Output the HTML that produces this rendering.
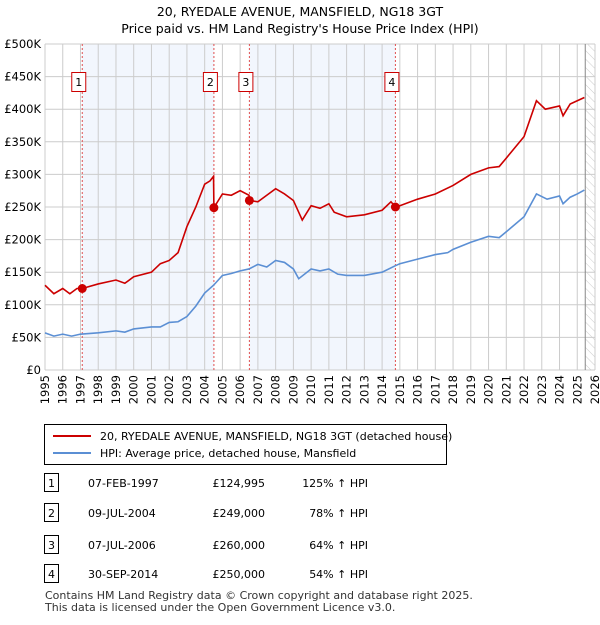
<!DOCTYPE html>
<html><head><meta charset="utf-8"><style>
body{margin:0;background:#fff;font-family:"Liberation Sans","DejaVu Sans",sans-serif;}
svg text{font-family:"DejaVu Sans","Liberation Sans",sans-serif;}
</style></head><body>
<svg width="600" height="620" xmlns="http://www.w3.org/2000/svg">
<defs><pattern id="hatch" width="6" height="6" patternUnits="userSpaceOnUse" patternTransform="rotate(-45)"><line x1="0" y1="0" x2="0" y2="6" stroke="#ccc" stroke-width="1"/></pattern></defs>
<text x="300" y="16" text-anchor="middle" font-size="12.5">20, RYEDALE AVENUE, MANSFIELD, NG18 3GT</text>
<text x="300" y="33" text-anchor="middle" font-size="12.5">Price paid vs. HM Land Registry's House Price Index (HPI)</text>
<g id="plot"></g>
<g>
<rect x="44.5" y="424.5" width="402" height="40" fill="#fff" stroke="#000"/>
<line x1="53" y1="436" x2="91" y2="436" stroke="#cc0000" stroke-width="2"/>
<text x="100" y="440" font-size="11">20, RYEDALE AVENUE, MANSFIELD, NG18 3GT (detached house)</text>
<line x1="53" y1="453" x2="91" y2="453" stroke="#5b8fd4" stroke-width="2"/>
<text x="100" y="457" font-size="11">HPI: Average price, detached house, Mansfield</text>
</g>
<g id="table" font-size="11"></g>
<text x="45" y="599" font-size="11" fill="#333">Contains HM Land Registry data © Crown copyright and database right 2025.</text>
<text x="45" y="611" font-size="11" fill="#333">This data is licensed under the Open Government Licence v3.0.</text>
</svg>
<script>
const yTicks=[0,50000,100000,150000,200000,250000,300000,350000,400000,450000,500000];
const yTickLabels=["£0","£50K","£100K","£150K","£200K","£250K","£300K","£350K","£400K","£450K","£500K"];
const xYears=[1995,1996,1997,1998,1999,2000,2001,2002,2003,2004,2005,2006,2007,2008,2009,2010,2011,2012,2013,2014,2015,2016,2017,2018,2019,2020,2021,2022,2023,2024,2025,2026];
const hpiX=[1995,1995.5,1996,1996.5,1997,1998,1999,1999.5,2000,2001,2001.5,2002,2002.5,2003,2003.5,2004,2004.5,2005,2005.5,2006,2006.5,2007,2007.5,2008,2008.5,2009,2009.3,2010,2010.5,2011,2011.5,2012,2013,2014,2014.75,2015,2016,2017,2017.7,2018,2019,2020,2020.6,2021,2022,2022.7,2023.3,2024,2024.2,2024.6,2025,2025.4];
const hpiY=[57000,52000,55000,52000,55000,57000,60000,58000,63000,66000,66000,73000,74000,82000,98000,118000,130000,145000,148000,152000,155000,162000,158000,168000,165000,155000,140000,155000,152000,155000,147000,145000,145000,150000,160000,163000,170000,177000,180000,185000,196000,205000,203000,212000,235000,270000,262000,267000,255000,265000,270000,276000];
const ppX=[1995,1995.5,1996,1996.4,1996.8,1997.1,1998,1999,1999.5,2000,2001,2001.5,2002,2002.5,2003,2003.5,2004,2004.3,2004.5,2004.52,2005,2005.5,2006,2006.5,2006.52,2007,2007.5,2008,2008.5,2009,2009.5,2010,2010.5,2011,2011.3,2012,2013,2014,2014.5,2014.75,2015,2016,2017,2018,2019,2020,2020.6,2021,2022,2022.7,2023.2,2024,2024.2,2024.6,2025,2025.4];
const ppY=[130000,117000,125000,117000,125000,125000,132000,138000,133000,143000,150000,163000,168000,180000,220000,250000,285000,290000,297000,249000,270000,268000,275000,268000,260000,258000,268000,278000,270000,260000,230000,252000,248000,255000,242000,235000,238000,245000,258000,250000,252000,262000,270000,283000,300000,310000,312000,325000,358000,413000,400000,405000,390000,408000,413000,418000];
const saleX=[1997.1,2004.52,2006.52,2014.75];
const saleY=[124995,249000,260000,250000];
const saleLabels=["1","2","3","4"];
const saleDates=["07-FEB-1997","09-JUL-2004","07-JUL-2006","30-SEP-2014"];
const salePrices=["£124,995","£249,000","£260,000","£250,000"];
const saleHpi=["125% ↑ HPI","78% ↑ HPI","64% ↑ HPI","54% ↑ HPI"];

const L=45,R=595,T=44,B=370,X0=1995,X1=2026,YMAX=500000,DATA_END=2025.45;
const sx=v=>L+(v-X0)/(X1-X0)*(R-L);
const sy=v=>B-v/YMAX*(B-T);
const NS="http://www.w3.org/2000/svg";
const plot=document.getElementById('plot');
function mk(tag,attrs,parent){const e=document.createElementNS(NS,tag);for(const k in attrs)e.setAttribute(k,attrs[k]);(parent||plot).appendChild(e);return e;}
for(let i=0;i<saleX.length;i+=2){const r=mk('rect',{x:sx(saleX[i]),y:T,width:sx(saleX[i+1])-sx(saleX[i]),height:B-T,fill:'#eef3fc',opacity:0.75});

}
const h=mk('rect',{x:sx(DATA_END),y:T,width:R-sx(DATA_END),height:B-T,fill:'url(#hatch)'});


yTicks.forEach((v,i)=>{mk('line',{x1:L,x2:R,y1:sy(v),y2:sy(v),stroke:'#cccccc'});
const t=mk('text',{x:L-4,y:sy(v)+4,'text-anchor':'end','font-size':'11.5'});t.textContent=yTickLabels[i];

});
xYears.forEach(y=>{mk('line',{x1:sx(y),x2:sx(y),y1:T,y2:B,stroke:'#cccccc'});
const t=mk('text',{x:0,y:0,'text-anchor':'end','font-size':'11.5',transform:`translate(${sx(y)+4},${B+5}) rotate(-90)`});t.textContent=y;

});
mk('line',{x1:sx(DATA_END),x2:sx(DATA_END),y1:T,y2:B,stroke:'#888'});
saleX.forEach(x=>{mk('line',{x1:sx(x),x2:sx(x),y1:T,y2:B,stroke:'#e05050','stroke-dasharray':'2,2'});});
const line=(xs,ys,c,n)=>{const p=mk('polyline',{points:xs.map((x,i)=>sx(x)+','+sy(ys[i])).join(' '),fill:'none',stroke:c,'stroke-width':1.6});

};
line(hpiX,hpiY,'#5b8fd4','hpi-line');
line(ppX,ppY,'#cc0000','price-paid-line');
saleX.forEach((x,i)=>{const c=mk('circle',{cx:sx(x),cy:sy(saleY[i]),r:4.5,fill:'#cc0000'});


const g=mk('g',{});


mk('rect',{x:sx(x)-10.5,y:72.5,width:14,height:19,fill:'#fff',stroke:'#cc0000'},g);
const t=mk('text',{x:sx(x)-3.5,y:86,'text-anchor':'middle','font-size':'11'},g);t.textContent=saleLabels[i];});
const tb=document.getElementById('table');
const rowsY=[483,513,545,574];
saleLabels.forEach((s,i)=>{const y=rowsY[i];
const g=mk('g',{},tb);


mk('rect',{x:44.5,y:y-9.5,width:14,height:18,fill:'#fff',stroke:'#000'},g);
const cells=[[51.5,s,'middle'],[88,saleDates[i],'start'],[265,salePrices[i],'end'],[368,saleHpi[i],'end']];
cells.forEach(c=>{const t=mk('text',{x:c[0],y:y+4,'text-anchor':c[2],'font-size':'11'},g);t.textContent=c[1];});});
</script>
</body></html>
